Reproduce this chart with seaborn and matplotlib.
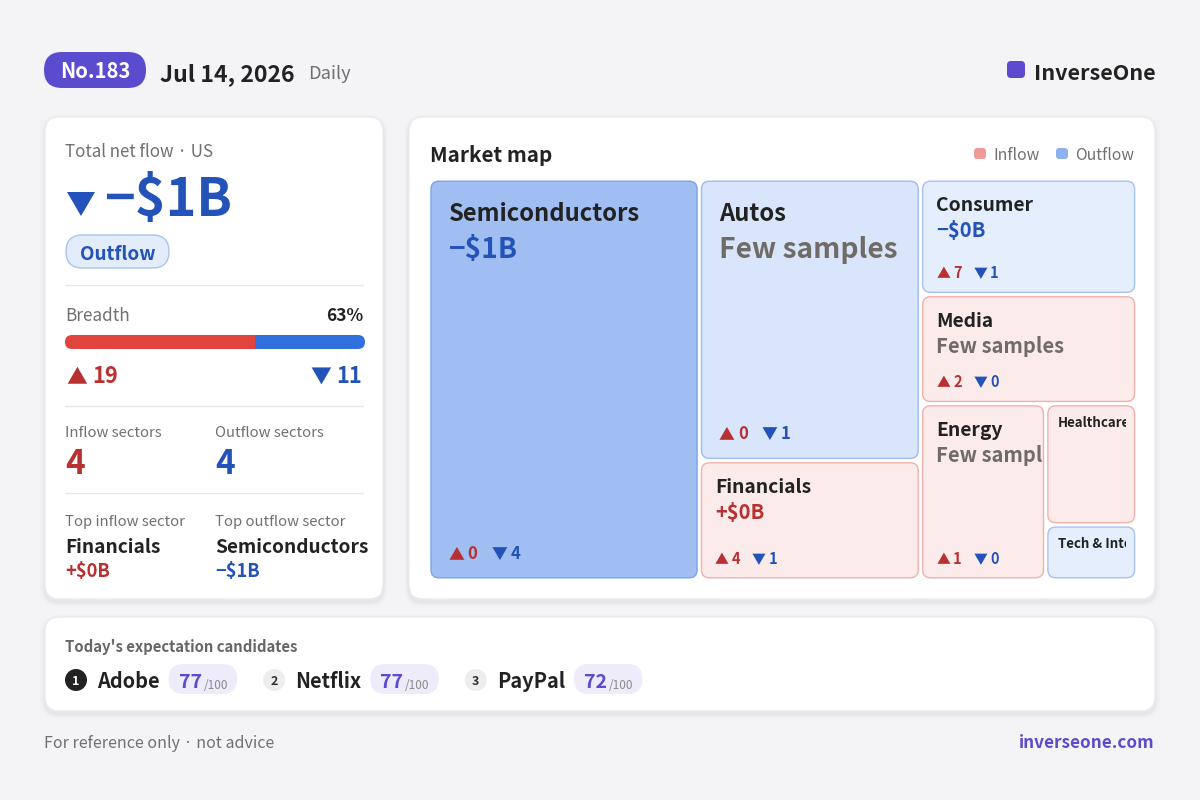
import matplotlib
matplotlib.use("Agg")
import matplotlib.pyplot as plt
from matplotlib.patches import FancyBboxPatch, Circle, Polygon
from matplotlib.transforms import Bbox
import matplotlib.colors as mcolors
import seaborn as sns

# data
issue_no = 183
date_label = "Jul 14, 2026"
period = "Daily"
brand = "InverseOne"
site = "inverseone.com"
region = "US"

total_flow = "−$1B"
up_count = 19
down_count = 11

sectors = ["Semiconductors", "Autos", "Financials", "Consumer",
           "Media", "Energy", "Healthcare", "Tech & Internet"]
sector_weight = [108, 62, 26.3, 24.9, 23.5, 22, 11, 5]
sector_dir = ["out", "out", "in", "out", "in", "in", "in", "out"]
sector_shade = [1.0, 0.22, 0.0, 0.05, 0.0, 0.0, 0.0, 0.05]
sector_value = ["−$1B", None, "+$0B", "−$0B", None, None, None, None]
sector_up = [0, 0, 4, 7, 2, 1, None, None]
sector_down = [4, 1, 1, 1, 0, 0, None, None]

cand_names = ["Adobe", "Netflix", "PayPal"]
cand_scores = [77, 77, 72]

# style
BG = "#F4F4F7"
PURPLE = "#5A4BCF"
DARK = "#222222"
GRAY = "#707070"
WARM = "#6F6B67"
RED = "#B8302F"
BLUE = "#2352B8"
BAR_RED = "#E0443C"
BAR_BLUE = "#3070DC"
LINE = "#E6E6EA"

sns.set_theme(style="white")
plt.rcParams["font.family"] = ["Noto Sans CJK KR", "DejaVu Sans"]

fig = plt.figure(figsize=(12, 8), dpi=100)
fig.patch.set_facecolor(BG)
ax = fig.add_axes([0, 0, 1, 1])
ax.set_xlim(0, 1200)
ax.set_ylim(800, 0)
ax.axis("off")
R = fig.canvas.get_renderer()


def rbox(x, y, w, h, r, fc, ec="none", lw=1.0, z=1, **kw):
    p = FancyBboxPatch((x, y), w, h, boxstyle=f"round,pad=0,rounding_size={r}",
                       fc=fc, ec=ec, lw=lw, zorder=z, **kw)
    ax.add_patch(p)
    return p


def card(x, y, w, h, r=14):
    for k, a in [(10, 0.012), (6, 0.018), (3, 0.025)]:
        rbox(x - k / 2, y - k / 2 + 3, w + k, h + k, r + k / 2, "black", alpha=a, z=0.5)
    rbox(x, y, w, h, r, "white", ec="#EBEBEF", z=1)


def txt(x, y, s, size, color, weight="normal", ha="left", va="baseline", z=5):
    return ax.text(x, y, s, fontsize=size, color=color, fontweight=weight,
                   ha=ha, va=va, zorder=z)


def tw(t):
    return t.get_window_extent(renderer=R).width


def counts(x, y, up, down, size, offset):
    a = txt(x, y, "▲", size * 0.95, RED, "bold")
    txt(x + tw(a) + 3, y, str(up), size, RED, "bold")
    b = txt(x + offset, y, "▼", size * 0.95, BLUE, "bold")
    txt(x + offset + tw(b) + 3, y, str(down), size, BLUE, "bold")


# header
rbox(44, 52, 102, 36, 18, PURPLE, z=2)
txt(95, 78.5, f"No.{issue_no}", 14.6, "white", "bold", ha="center")
t = txt(160, 81, date_label, 16.6, DARK, "bold")
txt(160 + tw(t) + 14, 79, period, 13.2, GRAY)
rbox(1007, 61, 18, 17, 4, PURPLE, z=2)
txt(1034, 80, brand, 15.5, DARK, "bold")

# left summary card
card(45, 117, 338, 482)
txt(65, 157, f"Total net flow · {region}", 12.2, GRAY)
ax.add_patch(Polygon([[67, 192], [95, 192], [81, 216]], closed=True, fc=BLUE, ec="none", zorder=5))
txt(105, 216, total_flow, 37.6, BLUE, "bold")
net_dir = "Outflow" if total_flow.startswith("−") else "Inflow"
rbox(66, 235, 103, 33, 16.5, "#E3ECFB", ec="#A9C4F0", z=2)
txt(117.5, 260, net_dir, 13.6, BLUE, "bold", ha="center")
for yy in (285, 406, 493):
    ax.plot([65, 363], [yy, yy], color=LINE, lw=1, zorder=2)

breadth = round(100 * up_count / (up_count + down_count))
txt(65, 321, "Breadth", 12.3, GRAY)
txt(363, 321, f"{breadth}%", 12.5, DARK, "bold", ha="right")

# breadth bar in its own axes, clipped to a pill
bx = fig.add_axes([65 / 1200, 1 - 349 / 800, 300 / 1200, 14 / 800])
bx.barh(0, up_count, height=1, color=BAR_RED, lw=0)
bx.barh(0, down_count, left=up_count, height=1, color=BAR_BLUE, lw=0)
bx.set_xlim(0, up_count + down_count)
bx.set_ylim(-0.5, 0.5)
bx.axis("off")
pill = FancyBboxPatch((65, 335), 300, 14, boxstyle="round,pad=0,rounding_size=7",
                      transform=ax.transData)
for bar in bx.patches:
    bar.set_clip_path(pill)

a = txt(66, 383, "▲", 15, RED, "bold")
txt(66 + tw(a) + 5, 383, str(up_count), 15.7, RED, "bold")
n = txt(362, 383, str(down_count), 15.7, BLUE, "bold", ha="right")
txt(362 - tw(n) - 5, 383, "▼", 15, BLUE, "bold", ha="right")

n_in = sector_dir.count("in")
n_out = sector_dir.count("out")
txt(65, 437, "Inflow sectors", 10.7, GRAY)
txt(215, 437, "Outflow sectors", 10.7, GRAY)
txt(65, 474, str(n_in), 24, RED, "bold")
txt(215, 474, str(n_out), 24, BLUE, "bold")

i_in = max((i for i in range(len(sectors)) if sector_dir[i] == "in"), key=lambda i: sector_weight[i])
i_out = max((i for i in range(len(sectors)) if sector_dir[i] == "out"), key=lambda i: sector_weight[i])
txt(65, 526, "Top inflow sector", 10.7, GRAY)
txt(215, 526, "Top outflow sector", 10.7, GRAY)
txt(65, 553, sectors[i_in], 13.7, DARK, "bold")
txt(215, 553, sectors[i_out], 13.7, DARK, "bold")
txt(65, 577, sector_value[i_in], 13.2, RED, "bold")
txt(215, 577, sector_value[i_out], 13.2, BLUE, "bold")

# market map card
card(409, 117, 746, 482)
txt(430, 162, "Market map", 14.9, DARK, "bold")
rbox(974, 148, 12, 11, 3, "#EE9B97", z=3)
txt(993, 160, "Inflow", 11.4, GRAY)
rbox(1056, 148, 12, 11, 3, "#8DB0EE", z=3)
txt(1075, 160, "Outflow", 11.3, GRAY)


def squarify(values, x, y, w, h):
    scale = w * h / sum(values)
    areas = [v * scale for v in values]
    rects = []

    def worst(row, side):
        s = sum(row)
        return max(max(side * side * r / (s * s), s * s / (side * side * r)) for r in row)

    i = 0
    while i < len(areas):
        side = min(w, h)
        row = [areas[i]]
        j = i + 1
        while j < len(areas) and worst(row + [areas[j]], side) <= worst(row, side):
            row.append(areas[j])
            j += 1
        s = sum(row)
        if w >= h:
            cw = s / h
            yy = y
            for ar in row:
                rects.append((x, yy, cw, ar / cw))
                yy += ar / cw
            x += cw
            w -= cw
        else:
            rh = s / w
            xx = x
            for ar in row:
                rects.append((xx, y, ar / rh, rh))
                xx += ar / rh
            y += rh
            h -= rh
        i = j
    return rects


def mix(c1, c2, t):
    a = mcolors.to_rgb(c1)
    b = mcolors.to_rgb(c2)
    return tuple(a[k] + (b[k] - a[k]) * t for k in range(3))


GAP = 2.2
rects = squarify(sector_weight, 428.8, 179, 708, 401)
for i, (x, y, w, h) in enumerate(rects):
    x0, y0, x1, y1 = x + GAP, y + GAP, x + w - GAP, y + h - GAP
    if sector_dir[i] == "out":
        fc = mix("#E9F0FC", "#A0BEF2", sector_shade[i])
        ec = mix("#A9C3F0", "#7CA3EA", sector_shade[i])
        vcol = BLUE
    else:
        fc = mix("#FCEBEB", "#F4A6A2", sector_shade[i])
        ec = mix("#F2B0AC", "#E27C76", sector_shade[i])
        vcol = RED
    rbox(x0, y0, x1 - x0, y1 - y0, 8, fc, ec=ec, lw=1, z=2)

    cw, ch = x1 - x0, y1 - y0
    if cw >= 180 and ch >= 200:
        pad, nsz, nb, vsz, vb, csz, cb, off = 17.5, 17.1, 40, 20.3, 77, 12, 19, 43
    elif cw >= 110:
        pad, nsz, nb, vsz, vb, csz, cb, off = 13.5, 13.9, 30, 14.5, 56, 10.5, 14, 37
    else:
        pad, nsz, nb, vsz, vb, csz, cb, off = 10, 9.6, 21, None, None, None, None, None
    clip = Bbox.from_extents(x0, 800 - y1, x1 - (9 if vsz is None else 1), 800 - y0)
    items = [txt(x0 + pad, y0 + nb, sectors[i], nsz, DARK, "bold")]
    if vsz is not None:
        if sector_value[i] is None:
            items.append(txt(x0 + pad, y0 + vb, "Few samples", vsz, WARM, "bold"))
        else:
            items.append(txt(x0 + pad, y0 + vb, sector_value[i], vsz, vcol, "bold"))
        if sector_up[i] is not None:
            counts(x0 + pad, y1 - cb, sector_up[i], sector_down[i], csz, off)
    for it in items:
        it.set_clip_path(None)
        it.set_clip_box(clip)
        it.set_clip_on(True)

# candidates card
card(45, 617, 1110, 94)
txt(65, 652, "Today's expectation candidates", 10.7, "#666666", "bold")
x = 65
for k, (name, score) in enumerate(zip(cand_names, cand_scores)):
    cx = x + 11
    first = k == 0
    ax.add_patch(Circle((cx, 680), 11, fc=DARK if first else "#EDEDED", ec="none", zorder=3))
    txt(cx, 680, str(k + 1), 9, "white" if first else "#333333", "bold", ha="center", va="center_baseline")
    nt = txt(cx + 21, 688, name, 14.4, DARK, "bold")
    px = cx + 21 + tw(nt) + 9
    s1 = txt(px + 10, 688, str(score), 14, PURPLE, "bold")
    s2 = txt(px + 10 + tw(s1) + 2, 689, "/100", 8.5, "#8A8A8A")
    pw = 10 + tw(s1) + 2 + tw(s2) + 9
    rbox(px, 664, pw, 30, 15, "#EEEBFB", z=3)
    x = px + pw + 26

# footer
txt(44, 748, "For reference only · not advice", 11.5, GRAY)
txt(1154, 748, site, 12.3, PURPLE, "bold", ha="right")

fig.savefig("out.png", dpi=100, facecolor=BG)
